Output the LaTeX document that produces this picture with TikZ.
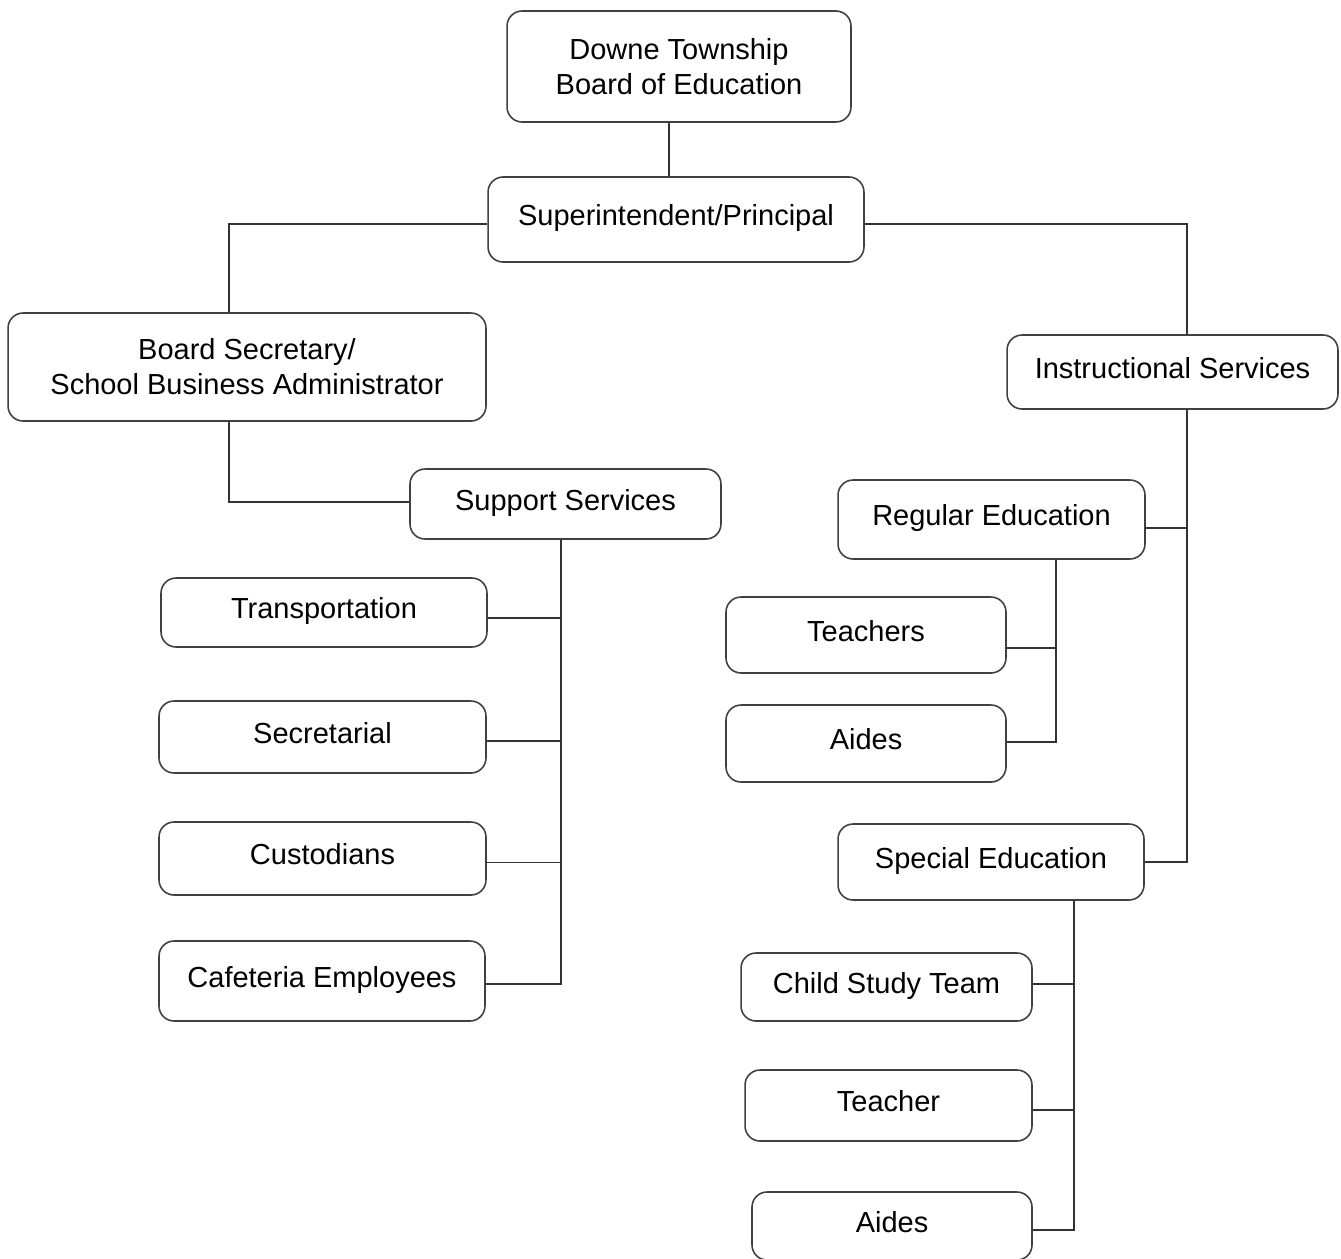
\documentclass[tikz,border=0pt]{standalone}
\usepackage{fontspec}
\setmainfont{Liberation Sans}
\usepackage{tikz}
\usetikzlibrary{positioning, calc}
\tikzstyle{orgbox} = [rectangle, rounded corners=0.3cm, draw=black!75, line width=0.9pt, text centered, align=center, font=\fontsize{16.5}{20}\selectfont]
\tikzstyle{onebox} = [orgbox, text height=0.8em, text depth=0.1em]
\tikzstyle{link} = [draw=black!80, line width=0.6pt]

\begin{document}
\begin{tikzpicture}[x=0.02cm, y=-0.02cm]
\useasboundingbox (0,0) rectangle (1341,1258);
% top of the chart
\node (board) [orgbox, minimum width=6.88cm, minimum height=2.22cm] at (679,66.5) {Downe Township\\Board of Education};
\node (supt) [onebox, minimum width=7.52cm, minimum height=1.70cm] at (676,219.5) {Superintendent/Principal};
\node (bsec) [orgbox, minimum width=9.56cm, minimum height=2.16cm] at (247,367) {Board Secretary/\\School Business Administrator};
\node (instr) [onebox, minimum width=6.62cm, minimum height=1.48cm] at (1172.5,372) {Instructional Services};
% support side
\node (supp) [onebox, minimum width=6.22cm, minimum height=1.40cm] at (565.5,504) {Support Services};
\node (transp) [onebox, minimum width=6.52cm, minimum height=1.38cm] at (324,612.5) {Transportation};
\node (secr) [onebox, minimum width=6.54cm, minimum height=1.44cm] at (322.5,737) {Secretarial};
\node (cust) [onebox, minimum width=6.54cm, minimum height=1.46cm] at (322.5,858.5) {Custodians};
\node (cafe) [onebox, minimum width=6.52cm, minimum height=1.60cm] at (322,981) {Cafeteria Employees};
% instructional side
\node (regedu) [onebox, minimum width=6.14cm, minimum height=1.58cm] at (991.5,519.5) {Regular Education};
\node (teachers) [onebox, minimum width=5.60cm, minimum height=1.52cm] at (866,635) {Teachers};
\node (aides) [onebox, minimum width=5.60cm, minimum height=1.54cm] at (866,743.5) {Aides};
\node (spedu) [onebox, minimum width=6.12cm, minimum height=1.52cm] at (991,862) {Special Education};
\node (cst) [onebox, minimum width=5.82cm, minimum height=1.36cm] at (886.5,987) {Child Study Team};
\node (teacher) [onebox, minimum width=5.74cm, minimum height=1.42cm] at (888.5,1105.5) {Teacher};
\node (aidestwo) [onebox, minimum width=5.60cm, minimum height=1.36cm] at (892,1226) {Aides};

% bus points
\coordinate (sbus) at ([xshift=-0.09cm]supp.south);
\coordinate (ibus) at ([xshift=0.29cm]instr.south);
\coordinate (rbus) at ([xshift=1.29cm]regedu.south);
\coordinate (spbus) at ([xshift=1.66cm]spedu.south);

\draw [link] ([xshift=-0.2cm]board.south) -- ([xshift=-0.2cm]board.south |- supt.north);
\draw [link] ([yshift=-0.09cm]supt.west) -| ([xshift=-0.36cm]bsec.north);
\draw [link] ([yshift=-0.09cm]supt.east) -| ([xshift=0.29cm]instr.north);
\draw [link] ([xshift=-0.36cm]bsec.south) |- ([yshift=0.04cm]supp.west);

\draw [link] (sbus) |- ([yshift=-0.06cm]cafe.east);
\draw [link] ([yshift=-0.11cm]transp.east) -- ([yshift=-0.11cm]transp.east -| sbus);
\foreach \n in {secr,cust}
  \draw [link] ([yshift=-0.08cm]\n.east) -- ([yshift=-0.08cm]\n.east -| sbus);

\draw [link] (ibus) |- (spedu.east);
\draw [link] ([yshift=-0.17cm]regedu.east) -- ([yshift=-0.17cm]regedu.east -| ibus);

\draw [link] (rbus) |- ([yshift=0.03cm]aides.east);
\draw [link] ([yshift=-0.26cm]teachers.east) -- ([yshift=-0.26cm]teachers.east -| rbus);

\draw [link] (spbus) |- ([yshift=-0.08cm]aidestwo.east);
\draw [link] ([yshift=0.06cm]cst.east) -- ([yshift=0.06cm]cst.east -| spbus);
\draw [link] ([yshift=-0.09cm]teacher.east) -- ([yshift=-0.09cm]teacher.east -| spbus);
\end{tikzpicture}
\end{document}
